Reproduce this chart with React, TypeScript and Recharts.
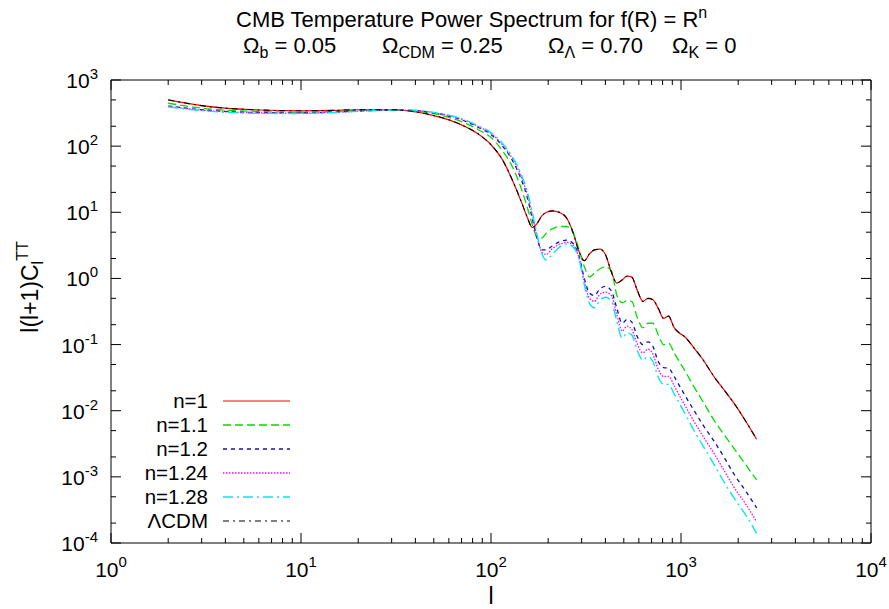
import React from 'react';
import { LineChart, Line, XAxis, YAxis, ReferenceArea } from 'recharts';

// multipole l
const ell = [2, 3, 4, 6, 10, 15, 20, 30, 40, 50, 60, 70, 85, 100, 115, 130, 145, 155, 165, 175, 185, 195, 210, 230, 250, 270, 290, 310, 330, 350, 375, 400, 430, 460, 490, 520, 550, 590, 630, 670, 710, 760, 810, 860, 920, 980, 1050, 1150, 1300, 1500, 1700, 1900, 2200, 2500];

const n1Vals = [500, 410, 375, 352, 342, 348, 355, 355, 330, 290, 250, 210, 155, 105, 62, 30, 14, 8.5, 5.9, 6.8, 8.8, 9.9, 10.5, 9.9, 8.2, 5.0, 2.6, 1.85, 2.35, 2.7, 2.77, 2.3, 1.25, 0.85, 0.95, 1.08, 1.05, 0.65, 0.45, 0.5, 0.48, 0.35, 0.25, 0.27, 0.18, 0.15, 0.13, 0.095, 0.06, 0.032, 0.02, 0.013, 0.0068, 0.0037];
const n11Vals = [446, 375, 350, 335, 325, 335, 345, 352, 340, 310, 272, 235, 180, 135, 85, 48, 22, 12, 6.5, 4.2, 4.1, 4.8, 5.6, 6.1, 6.1, 5.0, 2.8, 1.5, 1.05, 1.2, 1.4, 1.5, 1.3, 0.55, 0.43, 0.46, 0.45, 0.25, 0.18, 0.21, 0.21, 0.14, 0.1, 0.105, 0.075, 0.055, 0.04, 0.025, 0.014, 0.007, 0.0042, 0.0027, 0.0015, 0.0009];
const n12Vals = [405, 355, 335, 322, 318, 328, 340, 350, 345, 318, 285, 250, 195, 150, 100, 60, 30, 17, 8, 4, 2.7, 2.7, 3.1, 3.6, 3.8, 3.4, 2.2, 1.0, 0.6, 0.55, 0.7, 0.76, 0.65, 0.35, 0.21, 0.24, 0.22, 0.13, 0.1, 0.11, 0.095, 0.055, 0.045, 0.044, 0.033, 0.024, 0.017, 0.011, 0.0062, 0.0034, 0.0019, 0.0011, 0.0006, 0.00034];
const n124Vals = [398, 350, 330, 318, 315, 325, 338, 350, 346, 320, 290, 255, 200, 155, 105, 64, 33, 19, 9, 4.2, 2.5, 2.3, 2.8, 3.3, 3.5, 3.2, 2.1, 0.9, 0.5, 0.45, 0.58, 0.62, 0.55, 0.28, 0.16, 0.19, 0.17, 0.1, 0.075, 0.085, 0.072, 0.042, 0.033, 0.033, 0.024, 0.017, 0.012, 0.0075, 0.0042, 0.0022, 0.0012, 0.0007, 0.00038, 0.00021];
const n128Vals = [392, 345, 325, 313, 312, 322, 336, 350, 348, 323, 295, 260, 205, 160, 110, 68, 36, 21, 10, 4.5, 2.4, 1.9, 2.3, 3.0, 3.3, 3.0, 2.0, 0.8, 0.42, 0.36, 0.47, 0.52, 0.46, 0.22, 0.125, 0.15, 0.14, 0.08, 0.058, 0.066, 0.056, 0.032, 0.025, 0.025, 0.018, 0.013, 0.009, 0.0055, 0.003, 0.0015, 0.0008, 0.00048, 0.00026, 0.00014];
const lcdmVals = [500, 410, 375, 352, 342, 348, 355, 355, 330, 290, 250, 210, 155, 105, 62, 30, 14, 8.5, 5.9, 6.8, 8.8, 9.9, 10.5, 9.9, 8.2, 5.0, 2.6, 1.85, 2.35, 2.7, 2.77, 2.3, 1.25, 0.85, 0.95, 1.08, 1.05, 0.65, 0.45, 0.5, 0.48, 0.35, 0.25, 0.27, 0.18, 0.15, 0.13, 0.095, 0.06, 0.032, 0.02, 0.013, 0.0068, 0.0037];

const seriesNames = ['n=1', 'n=1.1', 'n=1.2', 'n=1.24', 'n=1.28', '\u039BCDM'];

const xMajor = [1, 10, 100, 1000, 10000];
const xMajorExp = ['0', '1', '2', '3', '4'];
const xMinorMult = [2, 3, 4, 5, 6, 7, 8, 9];
const yMajor = [1e-4, 1e-3, 1e-2, 1e-1, 1, 10, 100, 1000];
const yMajorExp = ['-4', '-3', '-2', '-1', '0', '1', '2', '3'];
const yMinorMult = [2, 5];

const data = ell.map((l, i) => ({
  l,
  n1: n1Vals[i],
  n11: n11Vals[i],
  n12: n12Vals[i],
  n124: n124Vals[i],
  n128: n128Vals[i],
  lcdm: lcdmVals[i],
}));

const xTicks: number[] = [];
xMajor.forEach((m, i) => {
  xTicks.push(m);
  if (i < xMajor.length - 1) xMinorMult.forEach((k) => xTicks.push(m * k));
});
const yTicks: number[] = [];
yMajor.forEach((m, i) => {
  yTicks.push(m);
  if (i < yMajor.length - 1) yMinorMult.forEach((k) => yTicks.push(m * k));
});

const W = 889;
const H = 609;
const PL = 111;
const PT = 80;
const PR = 871;
const PB = 543;
const PW = PR - PL;
const PH = PB - PT;
const FONT = "'Liberation Sans', Arial, Helvetica, sans-serif";
const FS = 21;
const SFS = 15;
const TFS = 23;
const TSFS = 16;
const LFS = 20.5;

const styles = [
  { key: 'n1', color: '#ff0000', dash: undefined as string | undefined, w: 1.2 },
  { key: 'n11', color: '#00dd00', dash: '8 4', w: 1.3 },
  { key: 'n12', color: '#1010b0', dash: '4 4', w: 1.3 },
  { key: 'n124', color: '#ff00ff', dash: '1.5 1.5', w: 1.3 },
  { key: 'n128', color: '#00e8f0', dash: '10 4 2 4', w: 1.4 },
  { key: 'lcdm', color: '#000000', dash: '6 4 2 4', w: 1.1 },
];

const XTick = (props: any) => {
  const { x, y, payload } = props;
  const v = payload.value;
  const idx = xMajor.indexOf(v);
  const len = idx >= 0 ? 10 : 5;
  return (
    <g>
      <line x1={x} y1={y} x2={x} y2={y - len} stroke="#000" strokeWidth={1} />
      <line x1={x} y1={y - PH} x2={x} y2={y - PH + len} stroke="#000" strokeWidth={1} />
      {idx >= 0 && (
        <text x={x} y={y + 34} textAnchor="middle" fontFamily={FONT} fontSize={FS} fill="#000">
          <tspan>10</tspan>
          <tspan dy={-10} fontSize={SFS}>{xMajorExp[idx]}</tspan>
        </text>
      )}
    </g>
  );
};

const YTick = (props: any) => {
  const { x, y, payload } = props;
  const v = payload.value;
  const idx = yMajor.indexOf(v);
  const len = idx >= 0 ? 10 : 5;
  return (
    <g>
      <line x1={x} y1={y} x2={x + len} y2={y} stroke="#000" strokeWidth={1} />
      <line x1={x + PW} y1={y} x2={x + PW - len} y2={y} stroke="#000" strokeWidth={1} />
      {idx >= 0 && (
        <text x={x - 13} y={y + 8} textAnchor="end" fontFamily={FONT} fontSize={FS} fill="#000">
          <tspan>10</tspan>
          <tspan dy={-9} fontSize={SFS}>{yMajorExp[idx]}</tspan>
        </text>
      )}
    </g>
  );
};

const legendY0 = 401;
const legendDy = 24;

export default function App() {
  return (
    <div style={{ position: 'absolute', left: 0, top: 0, width: W, height: H, background: '#fff' }}>
      <LineChart
        width={W}
        height={H}
        data={data}
        margin={{ top: PT, right: W - PR, bottom: H - PB - 50, left: PL - 100 }}
      >
        <XAxis
          dataKey="l"
          type="number"
          scale="log"
          domain={[1, 10000]}
          ticks={xTicks}
          interval={0}
          tick={<XTick />}
          tickLine={false}
          axisLine={false}
          tickSize={0}
          tickMargin={0}
          height={50}
          allowDataOverflow
        />
        <YAxis
          type="number"
          scale="log"
          domain={[1e-4, 1000]}
          ticks={yTicks}
          interval={0}
          tick={<YTick />}
          tickLine={false}
          axisLine={false}
          tickSize={0}
          tickMargin={0}
          width={100}
          allowDataOverflow
        />
        <ReferenceArea x1={1} x2={10000} y1={1e-4} y2={1000} fill="none" stroke="#000" strokeWidth={1} />
        {styles.map((s) => (
          <Line
            key={s.key}
            dataKey={s.key}
            type="monotone"
            stroke={s.color}
            strokeWidth={s.w}
            strokeDasharray={s.dash}
            dot={false}
            activeDot={false}
            isAnimationActive={false}
          />
        ))}
      </LineChart>
      <svg width={W} height={H} style={{ position: 'absolute', left: 0, top: 0, pointerEvents: 'none' }}>
        <g fontFamily={FONT} fontSize={TFS} fill="#000">
          <text x={236} y={27} fontSize={22}>
            <tspan>CMB Temperature Power Spectrum for f(R) = R</tspan>
            <tspan dy={-9} fontSize={TSFS}>n</tspan>
          </text>
          <text x={243} y={53} fontSize={22}>
            <tspan>{'\u03A9'}</tspan>
            <tspan dy={5} fontSize={TSFS}>b</tspan>
            <tspan dy={-5}> = 0.05</tspan>
          </text>
          <text x={382} y={53} fontSize={22}>
            <tspan>{'\u03A9'}</tspan>
            <tspan dy={5} fontSize={TSFS}>CDM</tspan>
            <tspan dy={-5}> = 0.25</tspan>
          </text>
          <text x={548} y={53} fontSize={22}>
            <tspan>{'\u03A9'}</tspan>
            <tspan dy={5} fontSize={TSFS}>{'\u039B'}</tspan>
            <tspan dy={-5}> = 0.70</tspan>
          </text>
          <text x={672} y={53} fontSize={22}>
            <tspan>{'\u03A9'}</tspan>
            <tspan dy={5} fontSize={TSFS}>K</tspan>
            <tspan dy={-5}> = 0</tspan>
          </text>
          <text x={491} y={604} textAnchor="middle">l</text>
          <text transform="translate(38,287) rotate(-90)" textAnchor="middle">
            <tspan>l(l+1)C</tspan>
            <tspan dy={5} fontSize={TSFS}>l</tspan>
            <tspan dy={-15} fontSize={TSFS}>TT</tspan>
          </text>
          {seriesNames.map((name, i) => {
            const cy = legendY0 + i * legendDy;
            const s = styles[i];
            return (
              <g key={name}>
                <text x={208} y={cy + 7} textAnchor="end" fontSize={LFS}>{name}</text>
                <line x1={223} y1={cy} x2={290} y2={cy} stroke={s.color} strokeWidth={s.w} strokeDasharray={s.dash} />
              </g>
            );
          })}
        </g>
      </svg>
    </div>
  );
}
